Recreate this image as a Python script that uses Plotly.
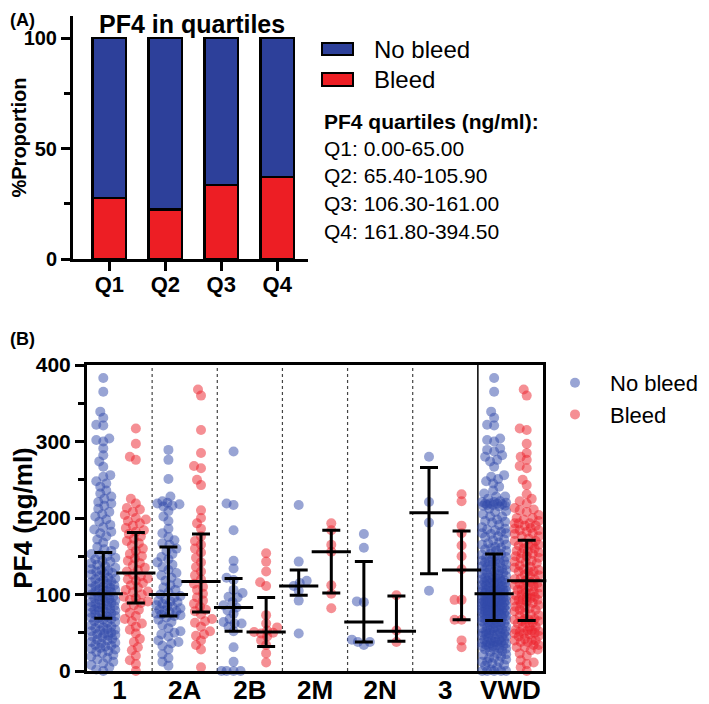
import numpy as np
import plotly.graph_objects as go

# ---------------- Panel A data ----------------
quartiles = ["Q1", "Q2", "Q3", "Q4"]
pct_bleed = [27.6, 22.3, 33.6, 37.1]
pct_no_bleed = [72.4, 77.7, 66.4, 62.9]
quartile_header = "PF4 quartiles (ng/ml):"
quartile_ranges = ["Q1: 0.00-65.00", "Q2: 65.40-105.90", "Q3: 106.30-161.00", "Q4: 161.80-394.50"]

# ---------------- Panel B data (PF4, ng/ml) ----------------
group_labels = ["1", "2A", "2B", "2M", "2N", "3", "VWD"]

nb_1 = [383, 365, 339, 331, 322, 321, 304, 302, 300, 291, 282, 274, 267, 256, 254, 248, 245, 241, 236, 232,
        228, 225, 221, 219, 216, 212, 208, 205, 202, 198, 195, 191, 188, 185, 182, 180, 176, 172, 168, 165,
        162, 159, 157, 153, 152, 150, 148, 146, 144, 143, 141, 139, 137, 135, 133, 132, 131, 130, 128, 127,
        126, 124, 122, 121, 120, 119, 117, 116, 115, 114, 112, 111, 110, 109, 108, 107, 106, 105, 104, 103,
        102, 100, 99, 98, 97, 96, 95, 94, 93, 92, 91, 90, 89, 88, 87, 86, 85, 84, 83, 82, 81, 80, 79, 78,
        77, 76, 75, 74, 73, 72, 71, 70, 69, 68, 67, 65, 64, 63, 62, 60, 58, 57, 56, 55, 54, 53, 52, 50, 49,
        48, 47, 46, 45, 44, 42, 41, 40, 38, 37, 36, 34, 33, 32, 30, 29, 28, 26, 25, 23, 21, 19, 17, 15, 12,
        10, 8, 5, 2, 0]
b_1 = [317, 297, 280, 276, 225, 219, 213, 211, 208, 204, 200, 198, 196, 193, 190, 187, 184, 182,
       179, 176, 173, 170, 167, 164, 160, 157, 153, 150, 147, 144, 141, 138, 135, 132, 130,
       126, 124, 121, 120, 118, 115, 112, 109, 106, 104, 103, 100, 97, 95, 93, 91, 89,
       86, 83, 80, 76, 72, 68, 65, 62, 58, 54, 49, 42, 38, 31, 27, 20, 14, 9, 0]
nb_2a = [289, 276, 251, 228, 222, 220, 219, 218, 216, 215, 209, 202, 196, 186, 180, 175, 171, 167, 165,
         160, 157, 153, 149, 146, 142, 139, 136, 132, 128, 125, 122, 118, 115, 112, 109, 106, 103, 100,
         98, 96, 94, 92, 91, 90, 88, 86, 85, 84, 82, 80, 79, 78, 77, 75, 74, 73, 72,
         70, 67, 64, 60, 56, 52, 50, 48, 45, 40, 38, 36, 33, 28, 22, 17, 12, 7]
b_2a = [368, 360, 315, 285, 268, 265, 250, 243, 210, 200, 193, 186,
        176, 170, 165, 160, 155, 148, 142, 136, 130, 125, 120,
        114, 110, 106, 101, 96, 92, 88, 84, 80, 78,
        74, 68, 65, 63, 58, 52, 48, 46, 40, 34, 28, 5]
nb_2b = [287, 219, 217, 184, 144, 134, 122, 119, 106, 102, 97, 96, 90, 86, 83, 79, 75, 68, 64, 62, 62,
         58, 52, 31, 12, 0, 0, 0, 0]
b_2b = [154, 143, 130, 116, 111, 73, 62, 57, 53, 51, 50, 49, 45, 40, 34, 23, 11]
nb_2m = [217, 143, 118, 115, 111, 105, 92, 49]
b_2m = [193, 184, 165, 156, 112, 101, 82]
nb_2n = [179, 161, 91, 90, 41, 38, 38, 34]
b_2n = [99, 53, 38]
nb_3 = [280, 221, 194, 105]
b_3 = [231, 222, 190, 180, 164, 150, 133, 93, 93, 67, 67, 40, 31]

nb_groups = [nb_1, nb_2a, nb_2b, nb_2m, nb_2n, nb_3]
b_groups = [b_1, b_2a, b_2b, b_2m, b_2n, b_3]
nb_groups.append([v for g in nb_groups for v in g])   # VWD = all types
b_groups.append([v for g in b_groups for v in g])

# median with interquartile range, as drawn
nb_median = [101, 100, 83, 111, 64, 207, 101]
nb_q1 = [69, 72, 52, 99, 38, 127, 66]
nb_q3 = [155, 162, 121, 132, 143, 266, 153]
b_median = [128, 117, 51, 156, 52, 132, 118]
b_q1 = [89, 77, 32, 102, 39, 67, 66]
b_q3 = [181, 179, 96, 184, 98, 183, 171]

# ---------------- styling / geometry ----------------
PAGE_W, PAGE_H = 709, 704
OFF = 8                      # default page margin around the plot div
W, H = PAGE_W - OFF, PAGE_H - OFF
FONT = "Liberation Sans"
BLUE_BAR = "rgb(45,64,154)"
RED_BAR = "rgb(237,30,36)"
BLUE_PT = "rgb(50,74,170)"
RED_PT = "rgb(236,32,42)"


def px(x):
    return (x - OFF) / W


def py(y):
    return 1 - (y - OFF) / H


# panel B plot area in page pixels
B_L, B_R, B_T, B_B = 87, 543, 365, 671
ppu_x = (B_R - B_L) / 7.0
ppu_y = (B_B - B_T) / 400.0


def swarm(vals, diam=6.5, half=12.0):
    vals = np.asarray(vals, dtype=float)
    order = np.argsort(vals, kind="stable")
    offs = np.zeros(len(vals))
    placed = []
    cands = []
    for k in range(0, int(half) + 1):
        cands += [k] if k == 0 else [-k, k]
    for i in order:
        y = vals[i] * ppu_y
        near = [(a, b) for a, b in placed if abs(b - y) < diam]
        best, bestd = 0, -1.0
        for c in cands:
            dmin = min([np.hypot(c - a, y - b) for a, b in near], default=1e9)
            if dmin >= diam:
                best = c
                break
            if dmin > bestd:
                bestd, best = dmin, c
        offs[i] = best
        placed.append((best, y))
    return offs / ppu_x


fig = go.Figure()

# ---------------- Panel A ----------------
fig.add_trace(go.Bar(x=quartiles, y=pct_bleed, name="Bleed", marker=dict(color=RED_BAR, line=dict(color="black", width=2.5)),
                     xaxis="x", yaxis="y", showlegend=False))
fig.add_trace(go.Bar(x=quartiles, y=pct_no_bleed, name="No bleed", marker=dict(color=BLUE_BAR, line=dict(color="black", width=2.5)),
                     xaxis="x", yaxis="y", showlegend=False))

# ---------------- Panel B ----------------
def scatter_xy(groups, side):
    xs, ys = [], []
    for gi, g in enumerate(groups):
        offs = swarm(g)
        xs += list(gi + side + offs)
        ys += list(g)
    return xs, ys

xn, yn = scatter_xy(nb_groups, -0.25)
xb, yb = scatter_xy(b_groups, 0.25)

fig.add_trace(go.Scatter(x=xn, y=yn, mode="markers", name="No bleed", xaxis="x2", yaxis="y2",
                         marker=dict(size=10, color=BLUE_PT, opacity=0.5, line=dict(width=0)),
                         cliponaxis=False, legend="legend"))
fig.add_trace(go.Scatter(x=xb, y=yb, mode="markers", name="Bleed", xaxis="x2", yaxis="y2",
                         marker=dict(size=10, color=RED_PT, opacity=0.5, line=dict(width=0)),
                         cliponaxis=False, legend="legend"))

for med, q1, q3, side in [(nb_median, nb_q1, nb_q3, -0.25), (b_median, b_q1, b_q3, 0.25)]:
    xs = [i + side for i in range(len(med))]
    fig.add_trace(go.Scatter(
        x=xs, y=med, mode="markers", xaxis="x2", yaxis="y2", showlegend=False, hoverinfo="skip",
        marker=dict(symbol="line-ew", size=28, color="black", line=dict(color="black", width=3)),
        error_y=dict(type="data", symmetric=False,
                     array=[b - a for a, b in zip(med, q3)],
                     arrayminus=[a - b for a, b in zip(med, q1)],
                     color="black", thickness=3, width=9),
        cliponaxis=False))

# group separators
shapes = []
for i in range(len(group_labels) - 1):
    solid = (i == len(group_labels) - 2)
    shapes.append(dict(type="line", xref="x2", yref="y2 domain", x0=i + 0.5, x1=i + 0.5, y0=0, y1=1,
                       line=dict(color="black" if solid else "#444", width=1.5 if solid else 1.2,
                                 dash="solid" if solid else "dot"), layer="below"))

# panel A legend swatches
shapes.append(dict(type="rect", xref="paper", yref="paper", x0=px(322), x1=px(353), y0=py(55), y1=py(43),
                   fillcolor=BLUE_BAR, line=dict(color="black", width=2)))
shapes.append(dict(type="rect", xref="paper", yref="paper", x0=px(322), x1=px(353), y0=py(86), y1=py(73),
                   fillcolor=RED_BAR, line=dict(color="black", width=2)))

ann = []
ann.append(dict(text="PF4 in quartiles", x=px(192), y=py(8), xref="paper", yref="paper", showarrow=False,
                xanchor="center", yanchor="top", font=dict(size=25, family=FONT, weight="bold")))
ann.append(dict(text="(A)", x=px(8), y=py(8), xref="paper", yref="paper", showarrow=False,
                xanchor="left", yanchor="top", font=dict(size=18, family=FONT, weight="bold")))
ann.append(dict(text="(B)", x=px(8), y=py(339), xref="paper", yref="paper", showarrow=False,
                xanchor="left", yanchor="middle", font=dict(size=18, family=FONT, weight="bold")))
ann.append(dict(text="No bleed", x=px(372), y=py(49), xref="paper", yref="paper", showarrow=False,
                xanchor="left", yanchor="middle", font=dict(size=24, family=FONT)))
ann.append(dict(text="Bleed", x=px(372), y=py(80), xref="paper", yref="paper", showarrow=False,
                xanchor="left", yanchor="middle", font=dict(size=24, family=FONT)))
ann.append(dict(text=quartile_header, x=px(322), y=py(122), xref="paper", yref="paper", showarrow=False,
                xanchor="left", yanchor="middle", font=dict(size=21, family=FONT, weight="bold")))
for k, t in enumerate(quartile_ranges):
    ann.append(dict(text=t, x=px(322), y=py(148 + 27.7 * k), xref="paper", yref="paper", showarrow=False,
                    xanchor="left", yanchor="middle", font=dict(size=21, family=FONT)))

axis_common = dict(showline=True, linewidth=3, linecolor="black", showgrid=False, zeroline=False,
                   tickcolor="black", automargin=False)

fig.update_layout(
    width=W, height=H, margin=dict(l=0, r=0, t=0, b=0, autoexpand=False),
    plot_bgcolor="white", paper_bgcolor="white",
    font=dict(family=FONT, color="black"),
    barmode="stack", bargap=0.4,
    shapes=shapes, annotations=ann,
    xaxis=dict(domain=[px(73), px(308)], anchor="y", type="category", range=[-0.65, 3.55],
               ticks="outside", ticklen=9, tickwidth=3, ticklabelstandoff=-5,
               tickfont=dict(size=22, family=FONT, weight="bold"), **axis_common),
    yaxis=dict(domain=[py(259), py(16)], anchor="x", range=[0, 110], tickvals=[0, 50, 100],
               ticks="outside", ticklen=9, tickwidth=3,
               minor=dict(ticks="outside", ticklen=6, tickwidth=3, dtick=25, tickcolor="black"),
               tickfont=dict(size=20, family=FONT, weight="bold"),
               title=dict(text="%Proportion", standoff=10, font=dict(size=20, family=FONT, weight="bold")),
               **axis_common),
    xaxis2=dict(domain=[px(B_L), px(B_R)], anchor="y2", range=[-0.5, 6.5],
                tickvals=list(range(len(group_labels))), ticktext=group_labels, ticks="",
                ticklabelstandoff=-6,
                tickfont=dict(size=26, family=FONT, weight="bold"), mirror=True, **axis_common),
    yaxis2=dict(domain=[py(B_B), py(B_T)], anchor="x2", range=[0, 400], tickvals=[0, 100, 200, 300, 400],
                ticks="outside", ticklen=9, tickwidth=3,
                minor=dict(ticks="outside", ticklen=6, tickwidth=3, dtick=50, tickcolor="black"),
                tickfont=dict(size=21, family=FONT, weight="bold"),
                title=dict(text="PF4 (ng/ml)", standoff=5, font=dict(size=26, family=FONT, weight="bold")),
                mirror=True, **axis_common),
    legend=dict(x=px(540), xanchor="left", y=py(362), yanchor="top", bgcolor="rgba(0,0,0,0)",
                font=dict(size=22, family=FONT), itemsizing="trace", itemwidth=60,
                traceorder="normal", tracegroupgap=0),
)

fig.write_html("out.html")
